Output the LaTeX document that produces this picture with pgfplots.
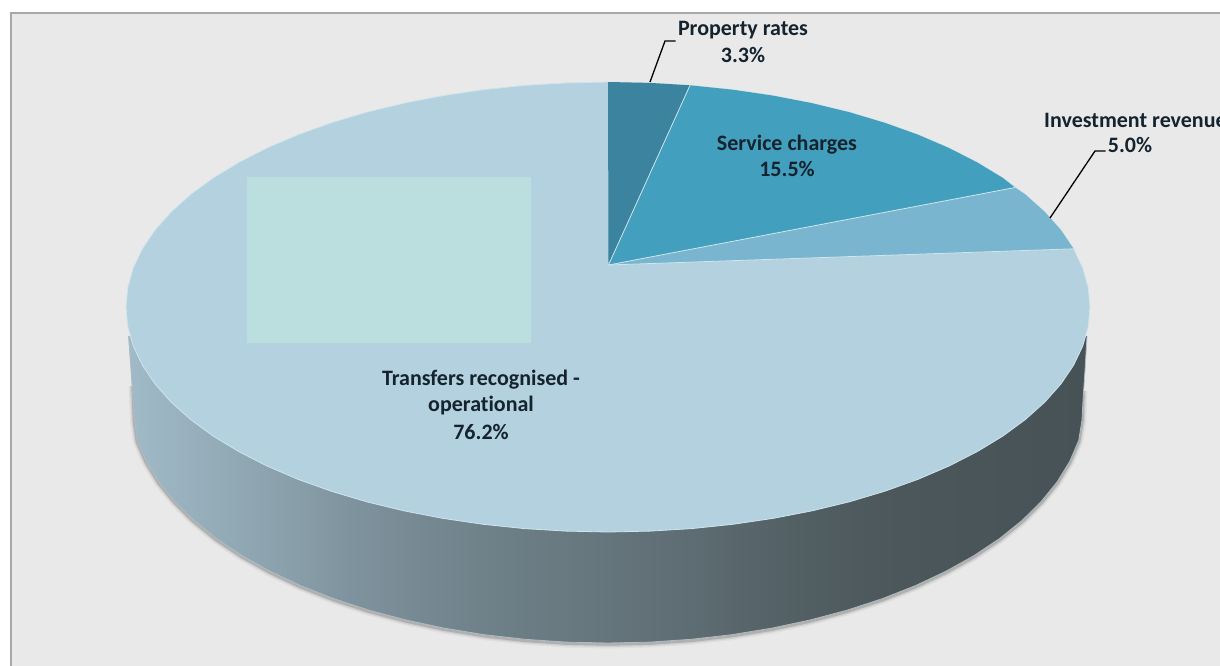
\documentclass[border=0pt]{standalone}
\usepackage{pgfplots}
\usepackage{pgfplotstable}
\usepackage{fontspec}
\pgfplotsset{compat=1.18}
\setmainfont[Ligatures=NoCommon]{Carlito}

\definecolor{frameline}{HTML}{A8A8A8}
\definecolor{panel}{HTML}{E9E9E9}
\definecolor{transfers}{HTML}{B3D1DE}
\definecolor{rates}{HTML}{3B839E}
\definecolor{service}{HTML}{429FBD}
\definecolor{invest}{HTML}{79B5CE}
\definecolor{patch}{HTML}{BBDEDE}
\definecolor{rim}{HTML}{CFE5ED}
\definecolor{labeltext}{HTML}{14232E}
\definecolor{wa}{HTML}{A0BAC7}
\definecolor{wb}{HTML}{8BA2AD}
\definecolor{wc}{HTML}{7F939E}
\definecolor{wd}{HTML}{6D7F87}
\definecolor{we}{HTML}{66767D}
\definecolor{wf}{HTML}{5D6B72}
\definecolor{wg}{HTML}{525F63}
\definecolor{wh}{HTML}{4B575A}
\definecolor{wi}{HTML}{465256}

% side wall shading, left (lit) to right (dark)
\pgfdeclarehorizontalshading{wallshade}{100bp}{
  color(0bp)=(wa); color(25bp)=(wa); color(32.8bp)=(wb); color(36.5bp)=(wc);
  color(44.3bp)=(wd); color(49.6bp)=(we); color(54.8bp)=(wf); color(60bp)=(wg);
  color(65.3bp)=(wh); color(75bp)=(wi); color(100bp)=(wi)}

% label type
\newcommand{\lab}{\fontsize{22}{26}\selectfont\bfseries\color{labeltext}}

% outline of the pie's top face
\pgfplotstableread{
x y
608 82
650 82.9
691.7 85.4
732.8 89.7
772.9 95.6
811.7 103.1
849 112.1
884.5 122.7
917.8 134.6
948.8 147.9
977.2 162.4
1002.8 177.9
1025.4 194.5
1044.8 211.9
1060.9 230
1073.6 248.8
1082.7 267.9
1088.2 287.4
1090 307
1088.2 326.6
1082.7 346.1
1073.6 365.2
1060.9 384
1044.8 402.1
1025.4 419.5
1002.8 436.1
977.2 451.6
948.8 466.1
917.8 479.4
884.5 491.3
849 501.9
811.7 510.9
772.9 518.4
732.8 524.3
691.7 528.6
650 531.1
608 532
566 531.1
524.3 528.6
483.2 524.3
443.1 518.4
404.3 510.9
367 501.9
331.5 491.3
298.2 479.4
267.2 466.1
238.8 451.6
213.2 436.1
190.6 419.5
171.1 402.1
155.1 384
142.4 365.2
133.3 346.1
127.8 326.6
126 307
127.8 287.4
133.3 267.9
142.4 248.8
155.1 230
171.2 211.9
190.6 194.5
213.2 177.9
238.8 162.4
267.2 147.9
298.2 134.6
331.5 122.7
367 112.1
404.3 103.1
443.1 95.6
483.2 89.7
524.3 85.4
566 82.9
608 82
}\topface

% lower edge of the side wall
\pgfplotstableread{
x y
128.5 336
131 370
133 400
134.5 420
137.3 440.5
146.3 461.4
158.8 481.8
174.8 501.5
194 520.5
216.4 538.5
241.8 555.5
270 571.2
300.7 585.7
333.8 598.7
369 610.2
406 620
444.5 628.2
484.3 634.7
525 639.3
566.3 642.1
608 643
649.7 642.1
691 639.3
731.7 634.7
771.5 628.2
810 620
847 610.2
882.2 598.7
915.3 585.7
946 571.2
974.2 555.5
999.6 538.5
1022 520.5
1041.2 501.5
1057.2 481.8
1069.7 461.4
1078.7 440.5
1082 420
1083 400
1085 370
1087 336
}\walledge

% lower edge used for the cast shadow
\pgfplotstableread{
x y
133 385
134.5 420
137.3 440.5
146.3 461.4
158.8 481.8
174.8 501.5
194 520.5
216.4 538.5
241.8 555.5
270 571.2
300.7 585.7
333.8 598.7
369 610.2
406 620
444.5 628.2
484.3 634.7
525 639.3
566.3 642.1
608 643
649.7 642.1
691 639.3
731.7 634.7
771.5 628.2
810 620
847 610.2
882.2 598.7
915.3 585.7
946 571.2
974.2 555.5
999.6 538.5
1022 520.5
1041.2 501.5
1057.2 481.8
1069.7 461.4
1078.7 440.5
1082 420
1083 390
}\shadowedge

% slices of the top face
\pgfplotstableread{
x y
608.5 265
608 82
650 82.9
690 85.3
}\ratesslice

\pgfplotstableread{
x y
608.5 265
690 85.3
732.8 89.7
772.9 95.6
811.7 103.1
849 112.1
884.5 122.7
917.8 134.6
948.8 147.9
977.2 162.4
1002.8 177.9
1015 187.5
}\serviceslice

\pgfplotstableread{
x y
608.5 265
1015 187.5
1025.4 194.5
1044.8 211.9
1060.9 230
1073.6 248.8
}\investslice

\begin{document}
\begin{tikzpicture}[x=1pt,y=1pt]
\useasboundingbox (0,0) rectangle (1220pt,666pt);
\begin{axis}[
  at={(0,0)}, anchor=south west,
  scale only axis, width=1220pt, height=666pt,
  xmin=0, xmax=1220, ymin=0, ymax=666,
  y dir=reverse, hide axis, no markers,
]
% panel with its frame on the top and left
\addplot[fill=panel, draw=none] coordinates {(11,13) (1220,13) (1220,666) (11,666)};
\addplot[draw=frameline, line width=2pt] coordinates {(11,666) (11,13) (1220,13)};

% soft shadow under the wall
\addplot[draw=black, opacity=.04, line width=9pt, yshift=-1pt] table {\shadowedge};
\addplot[draw=black, opacity=.07, line width=6pt, yshift=-1pt] table {\shadowedge};
\addplot[draw=black, opacity=.15, line width=3.5pt, yshift=-1pt] table {\shadowedge};

% side wall, then the top face over it
\addplot[shading=wallshade, draw=none] table {\walledge};
\addplot[draw=rim!60!gray, line width=.8pt] table {\walledge};
\addplot[fill=transfers, draw=rim, line width=.8pt] table {\topface};

\addplot[fill=patch, draw=none] coordinates {(247,177) (531,177) (531,343) (247,343)};

\addplot[fill=rates, draw=none] table {\ratesslice};
\addplot[fill=service, draw=none] table {\serviceslice};
\addplot[fill=invest, draw=none] table {\investslice};

% light seams between the slices
\addplot[draw=rim, line width=.8pt] coordinates {(690,85.3) (608.5,265) (1015,187.5)};
\addplot[draw=rim, line width=.8pt] coordinates {(608.5,265) (1073.6,248.8)};

% leader lines
\addplot[draw=black, line width=1.3pt] coordinates {(650,82) (665,41) (675.5,41)};
\addplot[draw=black, line width=1.3pt] coordinates {(1050,218) (1095,151) (1105.5,151)};

% slice labels
\node[inner sep=0pt] at (axis cs:743,30.5) {\lab Property rates};
\node[inner sep=0pt] at (axis cs:743,55) {\lab 3.3\%};
\node[inner sep=0pt] at (axis cs:787,144.5) {\lab Service charges};
\node[inner sep=0pt] at (axis cs:787,169) {\lab 15.5\%};
\node[inner sep=0pt, anchor=west] at (axis cs:1044,120) {\lab Investment revenue};
\node[inner sep=0pt] at (axis cs:1130,145) {\lab 5.0\%};
\node[inner sep=0pt] at (axis cs:481,379.5) {\lab Transfers recognised -};
\node[inner sep=0pt] at (axis cs:481,406) {\lab operational};
\node[inner sep=0pt] at (axis cs:481,432) {\lab 76.2\%};
\end{axis}
\end{tikzpicture}
\end{document}
